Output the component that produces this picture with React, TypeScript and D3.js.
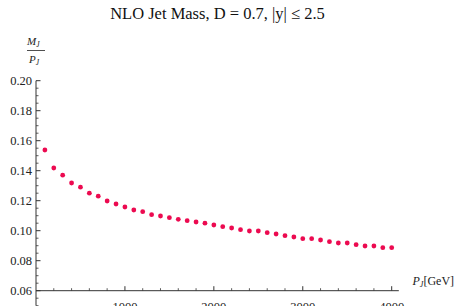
import React from 'react';
import * as d3 from 'd3';

// jet transverse momentum (GeV) and mass ratio
const ptValues = [
  100, 200, 300, 400, 500, 600, 700, 800, 900, 1000,
  1100, 1200, 1300, 1400, 1500, 1600, 1700, 1800, 1900, 2000,
  2100, 2200, 2300, 2400, 2500, 2600, 2700, 2800, 2900, 3000,
  3100, 3200, 3300, 3400, 3500, 3600, 3700, 3800, 3900, 4000,
];
const massRatio = [
  0.1538, 0.1418, 0.137, 0.1318, 0.129, 0.125, 0.123, 0.1198, 0.1178, 0.1158,
  0.1138, 0.1127, 0.1107, 0.1098, 0.1087, 0.1076, 0.1067, 0.1058, 0.105, 0.1038,
  0.1027, 0.1018, 0.1007, 0.0998, 0.0998, 0.0987, 0.0978, 0.0967, 0.0958, 0.0947,
  0.0947, 0.0938, 0.0927, 0.0918, 0.0918, 0.0907, 0.0898, 0.0898, 0.0887, 0.0887,
];
const xMajorTicks = [1000, 2000, 3000, 4000];
const yMajorTicks = [0.06, 0.08, 0.1, 0.12, 0.14, 0.16, 0.18, 0.2];

const W = 461;
const H = 306;
const serif = '"Liberation Serif", "DejaVu Serif", serif';
const dotColor = '#ec0a50';
const axisColor = '#333';

export default function App() {
  const x = d3.scaleLinear().domain([0, 4000]).range([36, 391.7]);
  const y = d3.scaleLinear().domain([0.06, 0.2]).range([290.7, 80.7]);

  const xMinor = d3.range(0, 4001, 200).filter((v) => v % 1000 !== 0);
  const yMinor = d3.range(0, 31).map((i) => 0.05 + i * 0.005)
    .filter((v) => !yMajorTicks.some((t) => Math.abs(t - v) < 1e-6));

  const x0 = x(0);
  const yAxisY = y(0.06);

  return (
    <div style={{ position: 'fixed', left: 0, top: 0 }}>
      <svg width={W} height={H} style={{ display: 'block', background: '#fff' }}>
        {/* title */}
        <text x={217.5} y={19} textAnchor="middle" fontFamily={serif} fontSize={16.5} fill="#111">
          NLO Jet Mass, D = 0.7, |y| ≤ 2.5
        </text>

        {/* y label: M_J / P_J */}
        <g fontFamily={serif} fontStyle="italic" fill="#222">
          <text x={27} y={45} fontSize={11}>
            M<tspan fontSize={7.5} dy={2}>J</tspan>
          </text>
          <line x1={27} x2={45} y1={50.5} y2={50.5} stroke="#222" strokeWidth={0.8} />
          <text x={29} y={63} fontSize={11}>
            P<tspan fontSize={7.5} dy={2}>J</tspan>
          </text>
        </g>

        {/* y axis */}
        <line x1={x0} x2={x0} y1={y(0.2)} y2={y(0.05)} stroke={axisColor} strokeWidth={1} />
        {yMajorTicks.map((t) => (
          <g key={t}>
            <line x1={x0} x2={x0 + 4.5} y1={y(t)} y2={y(t)} stroke={axisColor} strokeWidth={1} />
            <text x={x0 - 4} y={y(t) + 4.3} textAnchor="end" fontFamily={serif} fontSize={12.5} fill="#222">
              {d3.format('.2f')(t)}
            </text>
          </g>
        ))}
        {yMinor.map((t) => (
          <line key={t} x1={x0} x2={x0 + 2.5} y1={y(t)} y2={y(t)} stroke={axisColor} strokeWidth={0.8} />
        ))}

        {/* x axis */}
        <line x1={x0} x2={x(4080)} y1={yAxisY} y2={yAxisY} stroke={axisColor} strokeWidth={1} />
        {xMajorTicks.map((t) => (
          <g key={t}>
            <line x1={x(t)} x2={x(t)} y1={yAxisY} y2={yAxisY - 4.5} stroke={axisColor} strokeWidth={1} />
            <text x={x(t)} y={yAxisY + 20.5} textAnchor="middle" fontFamily={serif} fontSize={12.5} fill="#222">
              {t}
            </text>
          </g>
        ))}
        {xMinor.map((t) => (
          <line key={t} x1={x(t)} x2={x(t)} y1={yAxisY} y2={yAxisY - 2.5} stroke={axisColor} strokeWidth={0.8} />
        ))}
        <text x={412.5} y={285} fontFamily={serif} fontSize={12} fill="#222">
          <tspan fontStyle="italic">P</tspan>
          <tspan fontStyle="italic" fontSize={8} dy={2}>J</tspan>
          <tspan dy={-2}>[GeV]</tspan>
        </text>

        {/* points */}
        {ptValues.map((p, i) => (
          <circle key={p} cx={x(p)} cy={y(massRatio[i])} r={2.4} fill={dotColor} />
        ))}
      </svg>
    </div>
  );
}
